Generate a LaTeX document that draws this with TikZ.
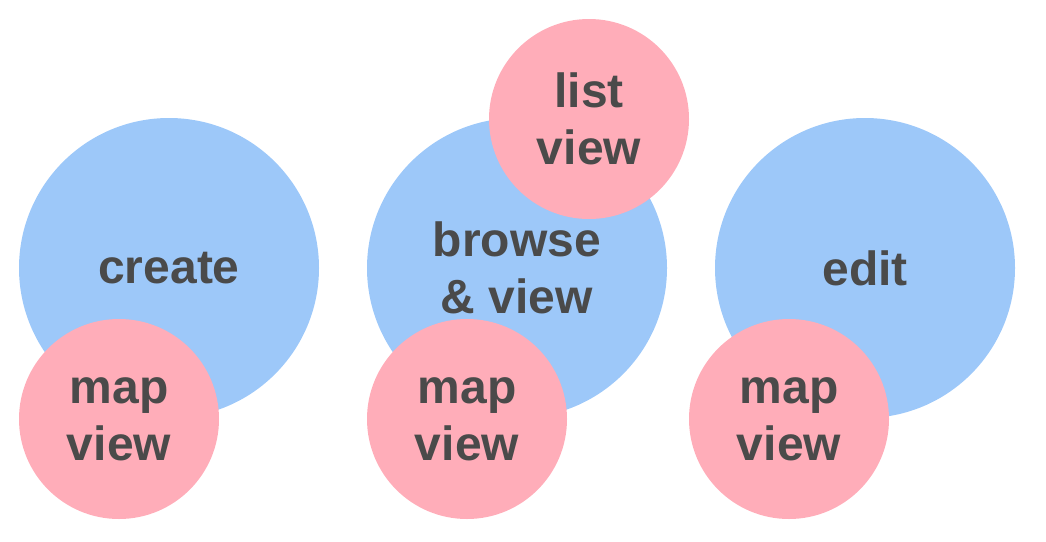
\documentclass[tikz,border=0pt]{standalone}
\usepackage{fontspec}
\setmainfont{Liberation Sans}
\definecolor{skyblue}{HTML}{9DC8F9}
\definecolor{rosepink}{HTML}{FFADB9}
\definecolor{inkgray}{HTML}{4A4A4A}
\begin{document}
\begin{tikzpicture}[x=1pt,y=-1pt,
    task/.style={circle,fill=skyblue,minimum size=300pt,inner sep=0pt,align=center,text=inkgray,font=\fontsize{48}{57}\selectfont\bfseries},
    view/.style={task,fill=rosepink,minimum size=200pt}]
        \useasboundingbox (0,0) rectangle (1046,541);
        \node[task] (create) at (169,268) {create};
        \node[task] (browse) at (517,268) {browse\\\& view};
        \node[task] (edit) at (865,268) {edit};
        \node[view] (createmap) at (119,419) {map\\view};
        \node[view] (browsemap) at (467,419) {map\\view};
        \node[view] (browselist) at (589,119) {list\\view};
        \node[view] (editmap) at (789,419) {map\\view};
      \end{tikzpicture}
\end{document}
